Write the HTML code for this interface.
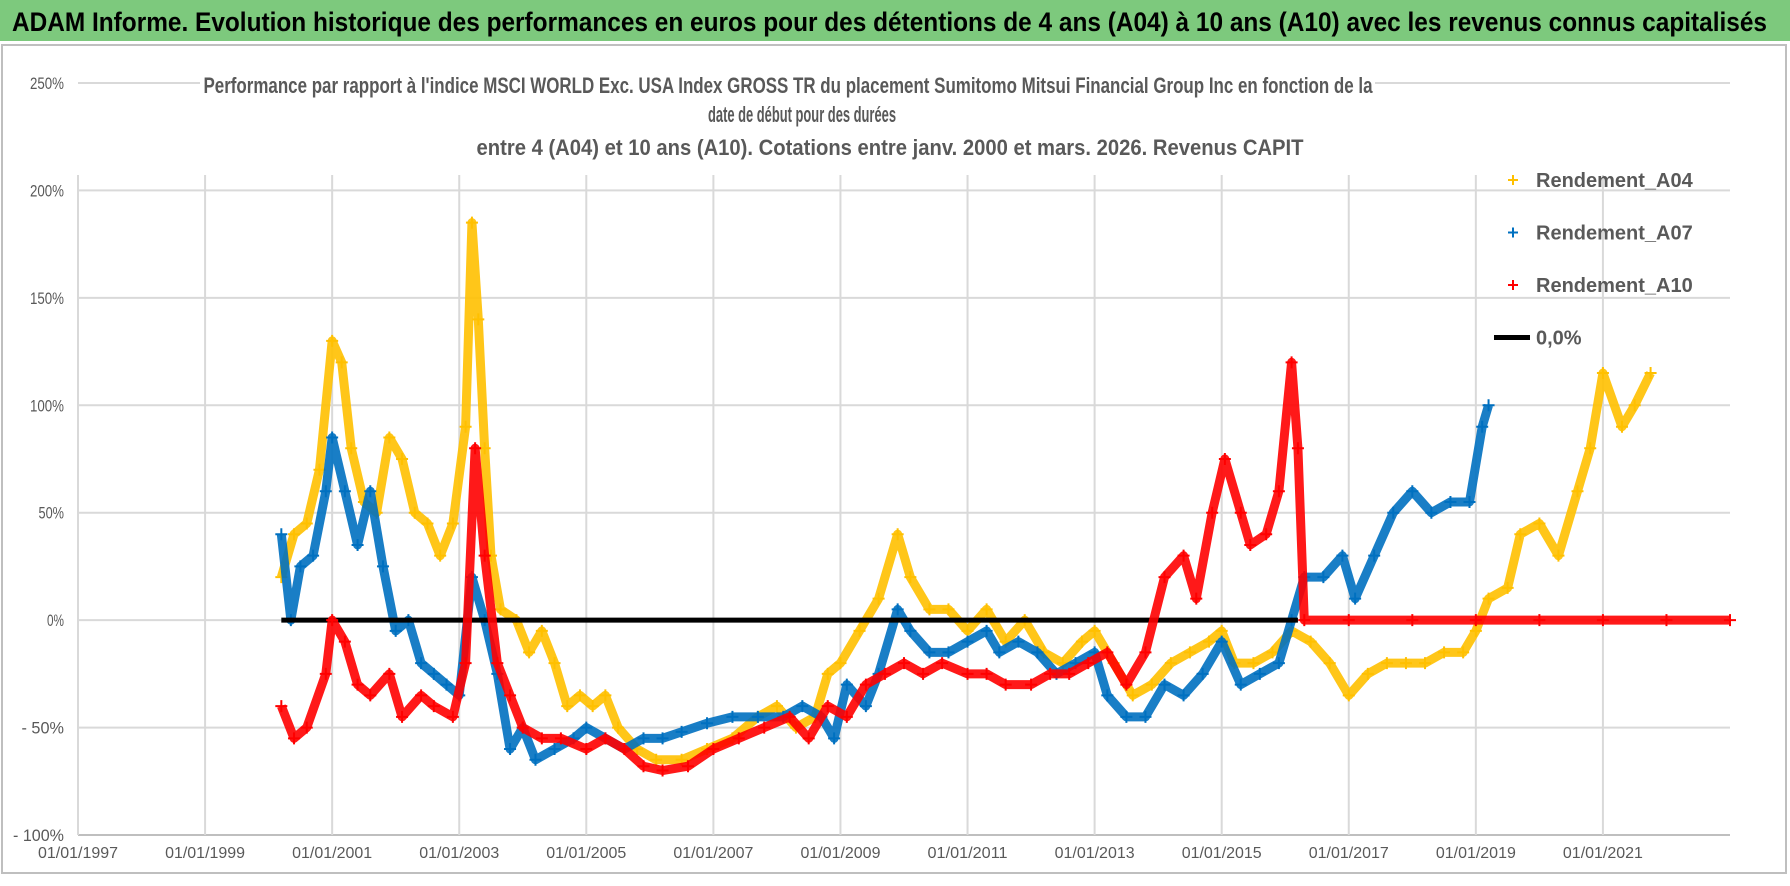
<!DOCTYPE html>
<html><head><meta charset="utf-8"><style>
html,body{margin:0;padding:0;background:#fff;}
svg{display:block;font-family:"Liberation Sans",sans-serif;}
</style></head><body>
<svg id="chart" width="1790" height="886" viewBox="0 0 1790 886">
<rect x="0" y="0" width="1790" height="886" fill="#fff"/>
<rect x="0" y="0" width="1790" height="41" fill="#7dc97d"/>
<text x="12" y="31" font-size="27" font-weight="bold" fill="#000" textLength="1755" lengthAdjust="spacingAndGlyphs">ADAM Informe. Evolution historique des performances en euros pour des détentions de 4 ans (A04) à 10 ans (A10) avec les revenus connus capitalisés</text>
<rect x="2" y="45" width="1784" height="828" fill="none" stroke="#bfbfbf" stroke-width="2"/>
<g id="grid"></g>
<g id="series"></g>
<g id="axes"></g>
<rect x="200" y="66" width="1175" height="90" fill="#fff"/>
<text x="788" y="93" font-size="22" font-weight="bold" fill="#595959" text-anchor="middle" textLength="1169" lengthAdjust="spacingAndGlyphs">Performance par rapport à l'indice MSCI WORLD Exc. USA Index GROSS TR  du placement Sumitomo Mitsui Financial Group Inc en fonction de la</text>
<text x="802" y="122" font-size="22" font-weight="bold" fill="#595959" text-anchor="middle" textLength="188" lengthAdjust="spacingAndGlyphs">date de début pour des durées</text>
<text x="890" y="155" font-size="22" font-weight="bold" fill="#595959" text-anchor="middle" textLength="827" lengthAdjust="spacingAndGlyphs">entre 4 (A04) et 10 ans (A10). Cotations entre janv. 2000 et mars. 2026. Revenus CAPIT</text>
<g id="legend"></g>
</svg>
<script>
const yTicks=[250,200,150,100,50,0,-50,-100];
const yTickLabels=["250%","200%","150%","100%","50%","0%","- 50%","- 100%"];
const xTicks=[1997,1999,2001,2003,2005,2007,2009,2011,2013,2015,2017,2019,2021];
const xTickLabels=["01/01/1997","01/01/1999","01/01/2001","01/01/2003","01/01/2005","01/01/2007","01/01/2009","01/01/2011","01/01/2013","01/01/2015","01/01/2017","01/01/2019","01/01/2021"];
const a04Dates=[2000.2,2000.4,2000.6,2000.8,2001.0,2001.15,2001.3,2001.5,2001.7,2001.9,2002.1,2002.3,2002.5,2002.7,2002.9,2003.1,2003.2,2003.3,2003.4,2003.5,2003.65,2003.9,2004.1,2004.3,2004.5,2004.7,2004.9,2005.1,2005.3,2005.5,2005.8,2006.1,2006.5,2006.9,2007.3,2007.7,2008.0,2008.3,2008.6,2008.8,2009.0,2009.3,2009.6,2009.9,2010.1,2010.4,2010.7,2011.0,2011.3,2011.6,2011.9,2012.2,2012.5,2012.8,2013.0,2013.3,2013.6,2013.9,2014.2,2014.5,2014.8,2015.0,2015.2,2015.5,2015.8,2016.1,2016.4,2016.7,2017.0,2017.3,2017.6,2017.9,2018.2,2018.5,2018.8,2019.0,2019.2,2019.5,2019.7,2020.0,2020.3,2020.6,2020.8,2021.0,2021.3,2021.5,2021.75];
const a04Values=[20,40,45,70,130,120,80,55,50,85,75,50,45,30,45,90,185,140,80,30,5,0,-15,-5,-20,-40,-35,-40,-35,-50,-60,-65,-65,-60,-55,-45,-40,-50,-45,-25,-20,-5,10,40,20,5,5,-5,5,-10,0,-15,-20,-10,-5,-20,-35,-30,-20,-15,-10,-5,-20,-20,-15,-5,-10,-20,-35,-25,-20,-20,-20,-15,-15,-5,10,15,40,45,30,60,80,115,90,100,115];
const a07Dates=[2000.2,2000.35,2000.5,2000.7,2000.9,2001.0,2001.2,2001.4,2001.6,2001.8,2002.0,2002.2,2002.4,2002.6,2002.8,2003.0,2003.2,2003.4,2003.6,2003.8,2004.0,2004.2,2004.5,2004.8,2005.0,2005.3,2005.6,2005.9,2006.2,2006.5,2006.9,2007.3,2007.7,2008.1,2008.4,2008.7,2008.9,2009.1,2009.4,2009.6,2009.9,2010.1,2010.4,2010.7,2011.0,2011.3,2011.5,2011.8,2012.1,2012.4,2012.7,2013.0,2013.2,2013.5,2013.8,2014.1,2014.4,2014.7,2015.0,2015.3,2015.6,2015.9,2016.1,2016.3,2016.6,2016.9,2017.1,2017.4,2017.7,2018.0,2018.3,2018.6,2018.9,2019.1,2019.2];
const a07Values=[40,0,25,30,60,85,60,35,60,25,-5,0,-20,-25,-30,-35,20,0,-25,-60,-50,-65,-60,-55,-50,-55,-60,-55,-55,-52,-48,-45,-45,-45,-40,-45,-55,-30,-40,-25,5,-5,-15,-15,-10,-5,-15,-10,-15,-25,-20,-15,-35,-45,-45,-30,-35,-25,-10,-30,-25,-20,0,20,20,30,10,30,50,60,50,55,55,90,100];
const a10Dates=[2000.2,2000.4,2000.6,2000.9,2001.0,2001.2,2001.4,2001.6,2001.9,2002.1,2002.4,2002.6,2002.9,2003.1,2003.25,2003.4,2003.6,2003.8,2004.0,2004.3,2004.6,2005.0,2005.3,2005.6,2005.9,2006.2,2006.6,2007.0,2007.4,2007.8,2008.2,2008.5,2008.8,2009.1,2009.4,2009.7,2010.0,2010.3,2010.6,2011.0,2011.3,2011.6,2012.0,2012.3,2012.6,2012.9,2013.2,2013.5,2013.8,2014.1,2014.4,2014.6,2014.85,2015.05,2015.3,2015.45,2015.7,2015.9,2016.1,2016.2,2016.3,2017.0,2018.0,2019.0,2020.0,2021.0,2022.0,2023.0];
const a10Values=[-40,-55,-50,-25,0,-10,-30,-35,-25,-45,-35,-40,-45,-20,80,30,-20,-35,-50,-55,-55,-60,-55,-60,-68,-70,-68,-60,-55,-50,-45,-55,-40,-45,-30,-25,-20,-25,-20,-25,-25,-30,-30,-25,-25,-20,-15,-30,-15,20,30,10,50,75,50,35,40,60,120,80,0,0,0,0,0,0,0,0];
const zeroDates=[2000.2,2016.2];
const zeroValues=[0,0];

const NS="http://www.w3.org/2000/svg";
const L=78,R=1730,T=83,B=835;
const xS=d=>L+(d-1997)/(2023-1997)*(R-L);
const yS=v=>B-(v+100)/350*(B-T);
function mk(tag,attrs,parent){const e=document.createElementNS(NS,tag);for(const k in attrs)e.setAttribute(k,attrs[k]);parent.appendChild(e);return e;}
const grid=document.getElementById('grid'),axes=document.getElementById('axes'),ser=document.getElementById('series'),leg=document.getElementById('legend');
yTicks.forEach((t,i)=>{
  const ln=mk('line',{x1:L,x2:R,y1:yS(t),y2:yS(t),stroke:t===-100?'#bfbfbf':'#d9d9d9','stroke-width':2},grid);
  
  
  const tx=mk('text',{x:64,y:yS(t)+6,'font-size':17,fill:'#595959','text-anchor':'end',textLength:yTickLabels[i].length*8.5,lengthAdjust:'spacingAndGlyphs'},axes);
  tx.textContent=yTickLabels[i];
  
  
});
xTicks.forEach((t,i)=>{
  const ln=mk('line',{x1:xS(t),x2:xS(t),y1:175,y2:B,stroke:'#d9d9d9','stroke-width':2},grid);
  
  
  const tx=mk('text',{x:xS(t),y:858,'font-size':16,fill:'#595959','text-anchor':'middle',textLength:80,lengthAdjust:'spacingAndGlyphs'},axes);
  tx.textContent=xTickLabels[i];
  
  
});
function drawSeries(dates,vals,color,name){
  const g=mk('g',{},ser);
  
  
  const pts=dates.map((d,i)=>xS(d)+','+yS(vals[i])).join(' ');
  const pl=mk('polyline',{points:pts,fill:'none',stroke:color,'stroke-width':9,'stroke-linejoin':'round',opacity:0.9},g);
  
  
  dates.forEach((d,i)=>{
    const x=xS(d),y=yS(vals[i]);
    const p=mk('path',{d:`M${x-6},${y}H${x+6}M${x},${y-6}V${y+6}`,stroke:color,'stroke-width':2},g);
    
    
  });
}
drawSeries(a04Dates,a04Values,'#ffc000','series-a04');
drawSeries(a07Dates,a07Values,'#0070c0','series-a07');
const zl=mk('polyline',{points:zeroDates.map((d,i)=>xS(d)+','+yS(zeroValues[i])).join(' '),fill:'none',stroke:'#000','stroke-width':5},ser);


drawSeries(a10Dates,a10Values,'#ff0000','series-a10');

const legItems=[["Rendement_A04","#ffc000"],["Rendement_A07","#0070c0"],["Rendement_A10","#ff0000"],["0,0%","#000"]];
legItems.forEach((it,i)=>{
  const y=180+i*52.5;
  if(i<3){
    const p=mk('path',{d:`M${1508},${y}H${1518}M${1513},${y-5}V${y+5}`,stroke:it[1],'stroke-width':2},leg);
    
    
  }else{
    const p=mk('line',{x1:1494,x2:1530,y1:y,y2:y,stroke:'#000','stroke-width':5},leg);
    
    
  }
  const tx=mk('text',{x:1536,y:y+7,'font-size':20,'font-weight':'bold',fill:'#595959'},leg);
  tx.textContent=it[0];
  
  
});
</script>
</body></html>
